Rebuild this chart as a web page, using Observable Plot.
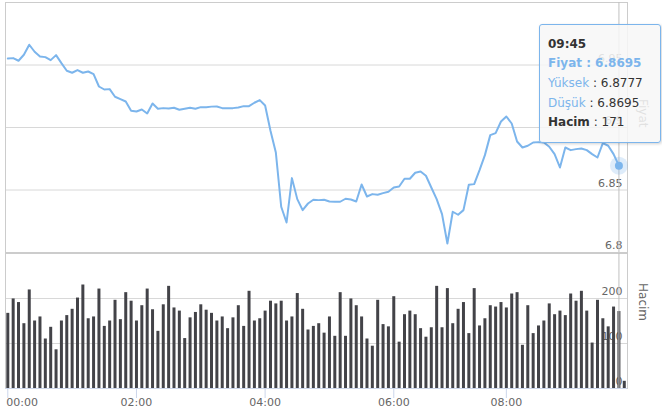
<!DOCTYPE html>
<html><head><meta charset="utf-8">
<script src="https://cdn.jsdelivr.net/npm/d3@7"></script>
<script src="https://cdn.jsdelivr.net/npm/@observablehq/plot@0.6"></script>
<style>
body{margin:0;background:#fff;}
#chart{position:relative;width:662px;height:419px;overflow:hidden;font-family:"DejaVu Sans",sans-serif;background:#fff;}
#top,#bottom{position:absolute;left:0;}
#top{top:0}
#bottom{top:253px}
#tip{position:absolute;left:539px;top:24px;width:120px;height:117px;border:1px solid #7cb5ec;border-radius:3px;background:rgba(247,247,247,0.85);box-shadow:1px 1px 3px rgba(0,0,0,0.18);font-size:12px;color:#333;}
#tip div{position:absolute;left:8px;white-space:nowrap;line-height:16px;}
</style></head>
<body><div id="chart"><div id="top"></div><div id="bottom"></div><div id="tip"></div></div>
<script>
const price = [6.9552,6.9555,6.9534,6.9582,6.9662,6.9606,6.9568,6.9563,6.9539,6.9579,
6.9515,6.9454,6.9438,6.9459,6.9438,6.9448,6.9427,6.9328,6.9304,6.9307,
6.9246,6.9227,6.9208,6.9134,6.9128,6.9144,6.9112,6.9192,6.9150,6.9155,
6.9152,6.9158,6.9142,6.9150,6.9158,6.9150,6.9163,6.9162,6.9167,6.9168,
6.9155,6.9155,6.9155,6.9160,6.9171,6.9171,6.9198,6.9219,6.9176,6.8974,
6.8800,6.8366,6.8240,6.8595,6.8427,6.8339,6.8392,6.8422,6.8419,6.8422,
6.8408,6.8406,6.8406,6.8430,6.8424,6.8408,6.8544,6.8448,6.8467,6.8462,
6.8475,6.8486,6.8520,6.8528,6.8590,6.8590,6.8638,6.8648,6.8614,6.8520,
6.8427,6.8307,6.8072,6.8326,6.8302,6.8339,6.8542,6.8547,6.8659,6.8779,
6.8939,6.8955,6.9048,6.9088,6.9032,6.8888,6.8840,6.8854,6.8880,6.8883,
6.8880,6.8846,6.8787,6.8680,6.8840,6.8819,6.8827,6.8832,6.8819,6.8787,
6.8760,6.8875,6.8854,6.8787,6.8695];
const volume = [167,199,191,144,219,150,159,110,136,86,
150,162,176,201,230,155,159,221,138,150,
196,153,213,194,150,184,221,175,127,186,
227,179,172,111,157,169,186,174,167,150,
159,133,157,184,138,216,150,155,172,194,
188,194,150,159,211,176,130,138,144,123,
159,116,213,116,199,184,159,110,94,196,
142,137,204,103,164,172,164,133,114,135,
227,135,222,144,176,191,122,222,139,155,
184,181,191,179,210,213,96,184,122,139,
150,188,164,172,162,210,194,216,172,101,
196,155,137,181,171,16];
const tickIndex = [0,24,48,72,93];
const tickLabels = ["00:00","02:00","04:00","06:00","08:00"];
const priceTicks = [6.8,6.85,6.9,6.95,7.0];
const priceLabels = ["6.8","6.85","6.9","6.95"];
const volumeTicks = [0,100,200,300];
const volumeLabels = ["0","100","200"];
const hoverIndex = 114;
const tipTime = "09:45";
const tipPrice = "6.8695";
const tipHigh = "6.8777";
const tipLow = "6.8695";
const tipVolume = "171";

const pdata = price.map((p,i)=>({i,p}));
const vdata = volume.map((v,i)=>({i,v}));
const xdom = [-0.43,115.6];
const style = {fontFamily:"DejaVu Sans", fontSize:"11px", background:"transparent", overflow:"visible"};
const grid = "#d8d8d8";

const topPlot = Plot.plot({
  width:662, height:253, marginLeft:5, marginRight:35, marginTop:2, marginBottom:1,
  x:{domain:xdom, axis:null, label:null},
  y:{domain:[6.8,7.0], axis:null, label:null},
  style,
  marks:[
    Plot.ruleY(priceTicks, {stroke:grid}),
    Plot.text(priceLabels, {y:d=>+d, text:d=>d, frameAnchor:"right", textAnchor:"end", dx:-5, dy:-7, fill:"#666", fontSize:11}),
    Plot.text(["Fiyat"], {frameAnchor:"right", dx:15, rotate:90, fill:"#666", fontSize:12}),
    Plot.frame({stroke:"#ccc"}),
    Plot.ruleX([hoverIndex], {stroke:"#c0c0c0"}),
    Plot.line(pdata, {x:"i", y:"p", stroke:"#7cb5ec", strokeWidth:2}),
    Plot.dot([pdata[hoverIndex]], {x:"i", y:"p", r:9, fill:"#7cb5ec", fillOpacity:0.25}),
    Plot.dot([pdata[hoverIndex]], {x:"i", y:"p", r:4, fill:"#7cb5ec"})
  ]
});
document.getElementById("top").appendChild(topPlot);

const tickData = tickIndex.map((d,k)=>({i:d, label:tickLabels[k]}));
const bottomPlot = Plot.plot({
  width:662, height:166, marginLeft:5, marginRight:35, marginTop:0, marginBottom:31,
  x:{domain:xdom, label:null, axis:null},
  y:{domain:[0,300], axis:null, label:null},
  style,
  marks:[
    Plot.ruleY(volumeTicks, {stroke:grid}),
    Plot.text(volumeLabels, {y:d=>+d, text:d=>d, frameAnchor:"right", textAnchor:"end", dx:-5, dy:-7, fill:"#666", fontSize:11}),
    Plot.text(["Hacim"], {frameAnchor:"right", dx:15, rotate:90, fill:"#666", fontSize:12}),
    Plot.frame({stroke:"#ccc"}),
    Plot.ruleX(vdata, {x:"i", y:"v", stroke:"#434348", strokeWidth:3}),
    Plot.ruleX([hoverIndex], {stroke:"#c0c0c0"}),
    Plot.ruleY([0], {stroke:"#ccd6eb"}),
    Plot.axisX({ticks:tickIndex, tickSize:10, stroke:"#ccd6eb", label:null, tickFormat:()=>""}),
    Plot.text(tickData.slice(0,1), {x:"i", text:"label", frameAnchor:"bottom", dy:17.5, dx:-1.5, textAnchor:"start", fill:"#666", fontSize:11}),
    Plot.text(tickData.slice(1), {x:"i", text:"label", frameAnchor:"bottom", dy:17.5, fill:"#666", fontSize:11})
  ]
});
document.getElementById("bottom").appendChild(bottomPlot);

const tip = document.getElementById("tip");
const rows = [
  `<b>${tipTime}</b>`,
  `<b style="color:#7cb5ec">Fiyat : ${tipPrice}</b>`,
  `<span style="color:#7cb5ec">Yüksek</span> : ${tipHigh}`,
  `<span style="color:#7cb5ec">Düşük</span> : ${tipLow}`,
  `<b>Hacim</b> : ${tipVolume}`
];
const tops = [10.5,30,49.5,69.5,89];
rows.forEach((h,k)=>{const d=document.createElement("div");d.style.top=tops[k]+"px";d.innerHTML=h;tip.appendChild(d);});
</script>
</body></html>
